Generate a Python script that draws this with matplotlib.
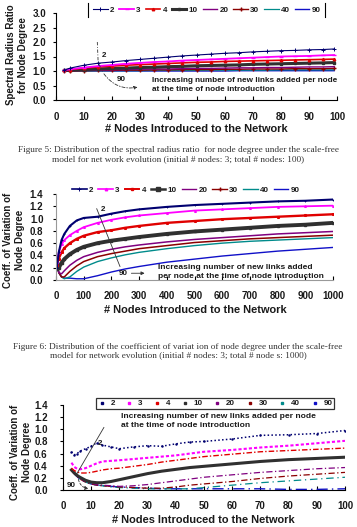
import matplotlib
matplotlib.use("Agg")
import matplotlib.pyplot as plt
from matplotlib.lines import Line2D
from matplotlib.patches import FancyArrowPatch

plt.rcParams['font.family'] = ['Liberation Sans', 'DejaVu Sans']

# ---------------- data ----------------
series_labels = ["2", "3", "4", "10", "20", "30", "40", "90"]

# Panel 1 (spectral radius ratio, 100 nodes)
p1_x = [3, 5, 10, 15, 20, 25, 30, 35, 40, 45, 50, 55, 60, 65, 70, 75, 80, 85, 90, 95, 99]
p1_2 = [1.03, 1.10, 1.20, 1.27, 1.31, 1.36, 1.40, 1.44, 1.48, 1.52, 1.55, 1.58, 1.61, 1.63, 1.66, 1.68, 1.70, 1.71, 1.73, 1.74, 1.76]
p1_3 = [1.03, 1.06, 1.12, 1.17, 1.21, 1.25, 1.28, 1.31, 1.33, 1.36, 1.38, 1.40, 1.42, 1.44, 1.46, 1.48, 1.50, 1.51, 1.52, 1.54, 1.55]
p1_4 = [1.02, 1.05, 1.10, 1.14, 1.17, 1.20, 1.22, 1.24, 1.26, 1.28, 1.30, 1.31, 1.33, 1.34, 1.35, 1.36, 1.37, 1.38, 1.39, 1.40, 1.41]
p1_10 = [1.02, 1.03, 1.05, 1.07, 1.09, 1.10, 1.12, 1.13, 1.15, 1.16, 1.18, 1.19, 1.20, 1.21, 1.23, 1.24, 1.25, 1.26, 1.27, 1.28, 1.29]
p1_20 = [1.00, 1.01, 1.02, 1.03, 1.04, 1.05, 1.06, 1.07, 1.07, 1.08, 1.09, 1.09, 1.10, 1.11, 1.11, 1.12, 1.12, 1.13, 1.14, 1.14, 1.15]
p1_30 = [1.00, 1.00, 1.01, 1.02, 1.02, 1.03, 1.03, 1.04, 1.04, 1.05, 1.05, 1.05, 1.06, 1.06, 1.07, 1.07, 1.07, 1.08, 1.08, 1.08, 1.09]
p1_40 = [1.00, 1.00, 1.00, 1.01, 1.01, 1.01, 1.01, 1.02, 1.02, 1.02, 1.02, 1.03, 1.03, 1.03, 1.03, 1.03, 1.04, 1.04, 1.04, 1.04, 1.04]
p1_90 = [1.00, 1.00, 1.00, 1.00, 1.00, 1.00, 1.00, 1.00, 1.00, 1.00, 1.00, 1.00, 1.00, 1.01, 1.01, 1.01, 1.01, 1.01, 1.01, 1.01, 1.01]
p1_xticks = [0, 10, 20, 30, 40, 50, 60, 70, 80, 90, 100]
p1_yticks = [0.0, 0.5, 1.0, 1.5, 2.0, 2.5, 3.0]

# Panel 2 (coefficient of variation, 1000 nodes)
p2_x = [3, 10, 20, 30, 50, 75, 100, 150, 200, 250, 300, 400, 500, 600, 700, 800, 900, 1000]
p2_2 = [0.20, 0.45, 0.65, 0.75, 0.88, 0.97, 1.01, 1.03, 1.08, 1.12, 1.15, 1.19, 1.22, 1.24, 1.26, 1.28, 1.29, 1.31]
p2_3 = [0.30, 0.45, 0.58, 0.65, 0.73, 0.80, 0.86, 0.93, 0.98, 1.02, 1.05, 1.09, 1.13, 1.15, 1.17, 1.19, 1.20, 1.21]
p2_4 = [0.25, 0.35, 0.45, 0.52, 0.60, 0.67, 0.72, 0.78, 0.81, 0.85, 0.88, 0.93, 0.96, 0.99, 1.01, 1.03, 1.05, 1.07]
p2_10 = [0.18, 0.20, 0.28, 0.34, 0.42, 0.49, 0.54, 0.60, 0.64, 0.67, 0.70, 0.75, 0.79, 0.82, 0.85, 0.88, 0.90, 0.93]
p2_20 = [0.25, 0.12, 0.10, 0.15, 0.24, 0.32, 0.38, 0.45, 0.50, 0.54, 0.57, 0.62, 0.66, 0.69, 0.72, 0.75, 0.77, 0.79]
p2_30 = [0.30, 0.12, 0.05, 0.05, 0.14, 0.23, 0.30, 0.38, 0.43, 0.47, 0.51, 0.56, 0.61, 0.64, 0.67, 0.69, 0.71, 0.73]
p2_40 = [0.30, 0.12, 0.05, 0.02, 0.05, 0.14, 0.21, 0.30, 0.36, 0.41, 0.45, 0.51, 0.56, 0.60, 0.63, 0.65, 0.67, 0.69]
p2_90 = [0.30, 0.12, 0.05, 0.03, 0.03, 0.02, 0.02, 0.07, 0.13, 0.18, 0.22, 0.29, 0.34, 0.39, 0.43, 0.47, 0.50, 0.53]
p2_xticks = [0, 100, 200, 300, 400, 500, 600, 700, 800, 900, 1000]
p2_yticks = [0.0, 0.2, 0.4, 0.6, 0.8, 1.0, 1.2, 1.4]

# Panel 3 (coefficient of variation, 100 nodes)
p3_x = [3, 4, 5, 6, 8, 10, 12, 14, 17, 20, 25, 30, 35, 40, 45, 50, 60, 70, 80, 90, 100]
p3_2 = [0.63, 0.58, 0.60, 0.64, 0.68, 0.72, 0.78, 0.74, 0.71, 0.68, 0.71, 0.73, 0.72, 0.76, 0.79, 0.80, 0.84, 0.90, 0.91, 0.93, 0.98]
p3_3 = [0.45, 0.38, 0.35, 0.34, 0.36, 0.40, 0.44, 0.47, 0.48, 0.49, 0.51, 0.53, 0.55, 0.57, 0.60, 0.63, 0.66, 0.70, 0.73, 0.77, 0.81]
p3_4 = [0.36, 0.32, 0.30, 0.28, 0.28, 0.29, 0.31, 0.33, 0.35, 0.36, 0.39, 0.42, 0.46, 0.49, 0.52, 0.55, 0.59, 0.63, 0.65, 0.67, 0.69]
p3_10 = [0.33, 0.28, 0.24, 0.21, 0.16, 0.13, 0.12, 0.12, 0.14, 0.17, 0.22, 0.27, 0.31, 0.34, 0.37, 0.39, 0.43, 0.47, 0.50, 0.52, 0.54]
p3_20 = [0.32, 0.27, 0.22, 0.19, 0.14, 0.11, 0.09, 0.08, 0.07, 0.06, 0.07, 0.09, 0.12, 0.15, 0.18, 0.21, 0.25, 0.29, 0.32, 0.35, 0.37]
p3_30 = [0.32, 0.27, 0.22, 0.18, 0.13, 0.10, 0.08, 0.07, 0.06, 0.05, 0.04, 0.03, 0.03, 0.05, 0.08, 0.10, 0.14, 0.19, 0.23, 0.26, 0.29]
p3_40 = [0.32, 0.27, 0.22, 0.18, 0.13, 0.10, 0.08, 0.07, 0.05, 0.04, 0.03, 0.02, 0.02, 0.02, 0.02, 0.04, 0.08, 0.12, 0.15, 0.18, 0.21]
p3_90 = [0.32, 0.27, 0.22, 0.18, 0.13, 0.10, 0.08, 0.07, 0.06, 0.05, 0.04, 0.03, 0.02, 0.02, 0.02, 0.02, 0.02, 0.02, 0.01, 0.01, 0.02]
p3_xticks = [0, 10, 20, 30, 40, 50, 60, 70, 80, 90, 100]
p3_yticks = [0.0, 0.2, 0.4, 0.6, 0.8, 1.0, 1.2, 1.4]

xlabel = "# Nodes Introduced to the Network"
annot_text = "Increasing number of new links added per node\nat the time of node introduction"
annot_text2 = "Increasing number of new links added\nper node at the time of node introduction"
caption5 = ("Figure 5: Distribution of the spectral radius ratio  for node degree under the scale-free\n"
            "model for net work evolution (initial # nodes: 3; total # nodes: 100)")
caption6 = ("Figure 6: Distribution of the coefficient of variat ion of node degree under the scale-free\n"
            "model for network evolution (initial # nodes: 3; total # node s: 1000)")

# ---------------- layout helpers ----------------
W, H = 357, 527
fig = plt.figure(figsize=(W / 100, H / 100), dpi=100)


def box(l, r, t, b):
    return [l / W, 1 - b / H, (r - l) / W, (b - t) / H]


def fx(px):
    return px / W


def fy(py):
    return 1 - py / H


colors = ['#000070', '#ff00ff', '#e00000', '#303030', '#800080', '#8b0000', '#008b8b', '#1010c8']
TICK_FS = 7.0
LAB_FS = 7.9
YLAB_FS = 7.0
LEG_FS = 5.8
BOLD = 'bold'
TXT = '#1a1a1a'


def style_axes(ax, xticks, yticks, xlim, ylim, xpad, ypad, spine_color='black'):
    ax.set_xlim(*xlim)
    ax.set_ylim(*ylim)
    ax.set_xticks(xticks)
    ax.set_yticks(yticks)
    ax.set_xticklabels([str(t) for t in xticks], fontsize=TICK_FS, fontweight=BOLD, color=TXT)
    ax.set_yticklabels([f"{t:.1f}" for t in yticks], fontsize=TICK_FS, fontweight=BOLD, color=TXT)
    for s in ['top', 'right']:
        ax.spines[s].set_visible(False)
    for s in ['left', 'bottom']:
        ax.spines[s].set_color(spine_color)
        ax.spines[s].set_linewidth(0.8)
    ax.tick_params(axis='x', direction='in', length=3, width=0.8, pad=xpad)
    ax.tick_params(axis='y', direction='out', length=2, width=0.8, pad=ypad)
    ax.patch.set_alpha(0)


def legend(handles, cx, cy, **kw):
    opts = dict(ncol=8, loc='center', bbox_to_anchor=(fx(cx), fy(cy)), frameon=False,
                handlelength=1.8, handletextpad=0.3, columnspacing=0.6,
                prop=dict(size=LEG_FS, weight=BOLD))
    opts.update(kw)
    lg = fig.legend(handles, series_labels, **opts)
    for t in lg.get_texts():
        t.set_color(TXT)
    return lg


# ---------------- Panel 1 ----------------
ax1 = fig.add_axes(box(56, 337, 13, 100))
p1_vals = [p1_2, p1_3, p1_4, p1_10, p1_20, p1_30, p1_40, p1_90]
p1_styles = [
    dict(lw=0.8, marker='+', ms=3, mew=0.7),
    dict(lw=1.3, marker='_', ms=3),
    dict(lw=1.2, marker='^', ms=1.8),
    dict(lw=2.2, marker='s', ms=2),
    dict(lw=1.0),
    dict(lw=1.0, marker='+', ms=2.5),
    dict(lw=0.9),
    dict(lw=1.0),
]
for vals, c, st in zip(reversed(p1_vals), reversed(colors), reversed(p1_styles)):
    ax1.plot(p1_x, vals, color=c, **st)
style_axes(ax1, p1_xticks, p1_yticks, (0, 100), (0, 3), xpad=8.5, ypad=5)

ax1.plot([14.7, 15.0, 16.5], [2.0, 1.3, 0.98], color='#333333', lw=0.6, ls=(0, (4, 2, 1, 2)))
ax1.add_patch(FancyArrowPatch((16.5, 0.98), (30, 0.46), connectionstyle="arc3,rad=0.35",
                              arrowstyle='-|>', mutation_scale=5, color='#333333', lw=0.6,
                              ls=(0, (4, 2, 1, 2))))
ax1.text(16.3, 1.55, "2", fontsize=5.8, fontweight=BOLD, color=TXT, ha='left', va='center')
ax1.text(21.5, 0.72, "90", fontsize=5.8, fontweight=BOLD, color=TXT, ha='left', va='center')
ax1.text(34, 0.52, annot_text, fontsize=5.9, fontweight=BOLD, color=TXT, ha='left', va='center',
         linespacing=1.4)

legend([Line2D([], [], color=c, **st) for c, st in zip(colors, p1_styles)], 207, 10)
fig.add_artist(Line2D([fx(88), fx(88)], [fy(3), fy(17)], color='black', lw=0.8))
fig.add_artist(Line2D([fx(325), fx(325)], [fy(3), fy(17)], color='black', lw=0.8))

fig.text(fx(196), fy(132), xlabel, fontsize=LAB_FS, fontweight=BOLD, ha='center', va='baseline', color=TXT)
fig.text(fx(17), fy(55), "Spectral Radius Ratio\nfor Node Degree", fontsize=YLAB_FS, fontweight=BOLD,
         rotation=90, ha='center', va='center', color=TXT, linespacing=1.2)

fig.text(fx(178), fy(154.5), caption5, fontsize=6.7, family=['Liberation Serif', 'DejaVu Serif'],
         ha='center', va='center', color='#333333', linespacing=1.15)

# ---------------- Panel 2 ----------------
ax2 = fig.add_axes(box(56, 333, 194, 280))
p2_vals = [p2_2, p2_3, p2_4, p2_10, p2_20, p2_30, p2_40, p2_90]
p2_styles = [
    dict(lw=1.5, marker='+', ms=2, mew=0.6),
    dict(lw=1.3, marker='^', ms=1.2),
    dict(lw=1.7, marker='s', ms=1.2),
    dict(lw=2.8, marker='s', ms=1.6),
    dict(lw=1.1),
    dict(lw=1.1),
    dict(lw=1.0),
    dict(lw=1.0),
]
p2_leg_styles = [
    dict(lw=1.2, marker='+', ms=3, mew=0.7),
    dict(lw=1.2, marker='^', ms=1.8),
    dict(lw=1.4, marker='s', ms=1.8),
    dict(lw=1.8, marker='s', ms=2.5),
    dict(lw=1.0),
    dict(lw=1.0, marker='+', ms=2.5),
    dict(lw=1.0),
    dict(lw=1.0),
]
for vals, c, st in zip(reversed(p2_vals), reversed(colors), reversed(p2_styles)):
    ax2.plot(p2_x, vals, color=c, **st)
style_axes(ax2, p2_xticks, p2_yticks, (0, 1000), (0, 1.4), xpad=7.8, ypad=7, spine_color='#999999')

ax2.plot([147, 231], [1.16, 0.22], color='#333333', lw=0.6)
ax2.text(160, 1.15, "2", fontsize=5.8, fontweight=BOLD, color=TXT, ha='left', va='center')
ax2.text(228, 0.11, "90", fontsize=5.8, fontweight=BOLD, color=TXT, ha='left', va='center')
ax2.annotate("", xy=(330, 0.11), xytext=(262, 0.11),
             arrowprops=dict(arrowstyle='-|>', color='#333333', lw=0.6, mutation_scale=5))
ax2.text(368, 0.13, annot_text2, fontsize=6.0, fontweight=BOLD, color=TXT, ha='left', va='center',
         linespacing=1.3)

legend([Line2D([], [], color=c, **st) for c, st in zip(colors, p2_leg_styles)], 186, 190)

fig.text(fx(195), fy(313), xlabel, fontsize=LAB_FS, fontweight=BOLD, ha='center', va='baseline', color=TXT)
fig.text(fx(14), fy(240), "Coeff. of Variation of\nNode Degree", fontsize=YLAB_FS, fontweight=BOLD,
         rotation=90, ha='center', va='center', color=TXT, linespacing=1.2)

fig.text(fx(178), fy(351), caption6, fontsize=6.7, family=['Liberation Serif', 'DejaVu Serif'],
         ha='center', va='center', color='#333333', linespacing=1.15)

# ---------------- Panel 3 ----------------
ax3 = fig.add_axes(box(63, 345, 405, 490))
p3_vals = [p3_2, p3_3, p3_4, p3_10, p3_20, p3_30, p3_40, p3_90]
p3_styles = [
    dict(lw=1.1, ls=(0, (1, 1.5)), marker='.', ms=1.5),
    dict(lw=1.5, ls=(0, (1.5, 1))),
    dict(lw=1.0, ls=(0, (4, 1.5, 1, 1.5))),
    dict(lw=2.2, ls='-'),
    dict(lw=0.9, ls=(0, (5, 2, 1, 2))),
    dict(lw=0.9, ls=(0, (5, 2, 1, 2))),
    dict(lw=0.9, ls=(0, (6, 3, 1, 3))),
    dict(lw=1.0, ls=(0, (8, 3, 1, 3))),
]
for vals, c, st in zip(reversed(p3_vals), reversed(colors), reversed(p3_styles)):
    ax3.plot(p3_x, vals, color=c, **st)
style_axes(ax3, p3_xticks, p3_yticks, (0, 100), (0, 1.4), xpad=7.6, ypad=9)

ax3.plot([4.8, 14.5], [0.26, 1.03], color='#333333', lw=0.6)
ax3.text(12.3, 0.76, "2", fontsize=5.8, fontweight=BOLD, color=TXT, ha='left', va='center')
ax3.text(1.2, 0.07, "90", fontsize=5.8, fontweight=BOLD, color=TXT, ha='left', va='center')
ax3.add_patch(FancyArrowPatch((5.3, 0.22), (10, 0.02), connectionstyle="arc3,rad=0.45",
                              arrowstyle='-|>', mutation_scale=5, color='#333333', lw=0.6,
                              ls=(0, (3, 2))))
ax3.text(20.5, 1.14, annot_text, fontsize=6.1, fontweight=BOLD, color=TXT, ha='left', va='center',
         linespacing=1.35)

leg3 = legend([Line2D([], [], color=c, ls='none', marker='s', ms=1.6) for c in colors], 215, 403.5,
              frameon=True, fancybox=False, handlelength=1.0, handletextpad=0.6, columnspacing=1.3,
              borderpad=0.25)
leg3.get_frame().set_edgecolor('black')
leg3.get_frame().set_linewidth(0.9)

fig.text(fx(203), fy(523), xlabel, fontsize=LAB_FS, fontweight=BOLD, ha='center', va='baseline', color=TXT)
fig.text(fx(21), fy(452), "Coeff. of Variation of\nNode Degree", fontsize=YLAB_FS, fontweight=BOLD,
         rotation=90, ha='center', va='center', color=TXT, linespacing=1.2)

fig.savefig("out.png", dpi=100)
